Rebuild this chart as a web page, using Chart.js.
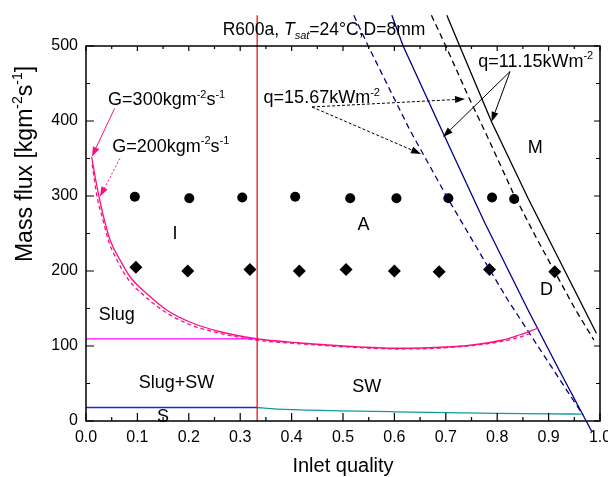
<!DOCTYPE html>
<html><head><meta charset="utf-8">
<script src="https://cdn.jsdelivr.net/npm/chart.js@4.4.1/dist/chart.umd.min.js"></script>
<style>html,body{margin:0;padding:0;background:#fff}canvas{display:block}</style>
</head><body>
<canvas id="c" width="608" height="477"></canvas>
<script>
// ---- tick values ----
const xTicks = [0, 0.1, 0.2, 0.3, 0.4, 0.5, 0.6, 0.7, 0.8, 0.9, 1.0];
const yTicks = [0, 100, 200, 300, 400, 500];

// ---- transition lines (x = inlet quality, y = mass flux) ----
const annularX = [0.333, 0.333];
const annularY = [0, 541];
const slugLimitX = [0, 0.333];
const slugLimitY = [109.5, 109.5];
const stratLeftX = [0, 0.333];
const stratLeftY = [18, 18];
const stratX = [0.333, 0.36, 0.416, 0.5, 0.6, 0.7, 0.8, 0.9, 0.964];
const stratY = [18, 16.5, 14.7, 13.5, 12.3, 11.2, 10.3, 9.6, 9.2];

const waveG300X = [0.011, 0.018, 0.025, 0.035, 0.047, 0.066, 0.086, 0.118, 0.157, 0.202, 0.261, 0.329, 0.416, 0.5, 0.605, 0.708, 0.747, 0.811, 0.844, 0.88];
const waveG300Y = [352, 325, 300, 270, 241, 215, 192, 170, 148, 132, 119, 110, 104, 100, 97, 99, 101, 108, 115, 124];
const waveG200X = [0.012, 0.022, 0.033, 0.045, 0.063, 0.083, 0.115, 0.155, 0.2, 0.26, 0.33, 0.416, 0.5, 0.605, 0.708, 0.8, 0.84, 0.862];
const waveG200Y = [342, 297, 268, 238, 211, 188, 166, 145, 129, 117, 108, 103, 99, 96, 98, 105, 111, 116];

const dryQ1567X = [0.521, 0.549, 0.630, 0.702, 0.786, 0.821, 0.877, 0.922, 0.967];
const dryQ1567Y = [541, 500, 388, 299, 201, 161, 102, 55, 8];
const dryQ1115X = [0.595, 0.617, 0.692, 0.776, 0.860, 0.922, 0.984];
const dryQ1115Y = [541, 500, 388, 264, 148, 66, -14];
const mistQ1567X = [0.672, 0.700, 0.745, 0.779, 0.831, 0.877, 0.916, 0.951, 0.988];
const mistQ1567Y = [541, 500, 431, 382, 304, 243, 194, 150, 108];
const mistQ1115X = [0.702, 0.727, 0.789, 0.860, 0.993];
const mistQ1115Y = [541, 500, 399, 297, 117];

// ---- experimental points ----
const g300X = [0.095, 0.201, 0.304, 0.407, 0.514, 0.604, 0.705, 0.790, 0.833];
const g300Y = [299, 297, 298, 299, 297, 297, 297, 298, 296];
const g200X = [0.097, 0.198, 0.319, 0.415, 0.506, 0.600, 0.687, 0.785, 0.912];
const g200Y = [205, 200, 202, 200, 202, 200, 199, 202, 199];

// ---- text labels (anchored in data coordinates) ----
const regionText = ['I', 'A', 'M', 'D', 'Slug', 'Slug+SW', 'SW', 'S'];
const regionX = [0.173, 0.540, 0.874, 0.896, 0.060, 0.176, 0.546, 0.150];
const regionY = [251, 263.5, 365.8, 177, 143.6, 52.4, 46.7, 8];

const noteText = ['G=300kgm^{-2}s^{-1}', 'G=200kgm^{-2}s^{-1}', 'q=15.67kWm^{-2}', 'q=11.15kWm^{-2}'];
const noteX = [0.043, 0.051, 0.3455, 0.763];
const noteY = [421, 359, 423.5, 472.4];

// arrows: from (x, y) to (x, y)
const arrowFromX = [0.0558, 0.066, 0.4397, 0.4397, 0.825, 0.825];
const arrowFromY = [417, 350, 418.7, 418.7, 466, 466];
const arrowToX = [0.0114, 0.027, 0.7374, 0.6518, 0.6946, 0.789];
const arrowToY = [352.4, 299, 429.3, 356, 378.7, 399];

const FONT = '"Liberation Sans", Arial, sans-serif';
const pts = (xs, ys) => xs.map((x, i) => ({x: x, y: ys[i]}));

function lineDs(xs, ys, color, dash, mono) {
  return {
    data: pts(xs, ys), showLine: true, borderColor: color, borderWidth: 1.3,
    borderDash: dash || [], pointRadius: 0, pointHoverRadius: 0, clip: false,
    cubicInterpolationMode: mono ? 'monotone' : 'default', tension: 0, fill: false
  };
}

function parseRich(s) {
  const segs = []; let i = 0, italic = false, buf = '';
  const push = (t, mode) => { if (t) segs.push({t: t, mode: mode, italic: italic}); };
  while (i < s.length) {
    const c = s[i];
    if ((c === '^' || c === '_') && s[i + 1] === '{') {
      push(buf, 'n'); buf = '';
      const j = s.indexOf('}', i);
      push(s.slice(i + 2, j), c === '^' ? 'sup' : 'sub');
      i = j + 1; continue;
    }
    if (c === '*') { push(buf, 'n'); buf = ''; italic = !italic; i++; continue; }
    buf += c; i++;
  }
  push(buf, 'n');
  return segs;
}
function drawRich(ctx, s, x, y, size, align) {
  const segs = parseRich(s);
  const fontFor = seg => (seg.italic ? 'italic ' : '') + (seg.mode === 'n' ? size : Math.round(size * 0.62)) + 'px ' + FONT;
  let w = 0;
  segs.forEach(seg => { ctx.font = fontFor(seg); seg.w = ctx.measureText(seg.t).width; w += seg.w; });
  let cx = align === 'center' ? x - w / 2 : (align === 'right' ? x - w : x);
  ctx.textAlign = 'left'; ctx.textBaseline = 'alphabetic';
  segs.forEach(seg => {
    ctx.font = fontFor(seg);
    const dy = seg.mode === 'sup' ? -size * 0.42 : (seg.mode === 'sub' ? size * 0.25 : 0);
    ctx.fillText(seg.t, cx, y + dy);
    cx += seg.w;
  });
  return w;
}
function arrow(ctx, x1, y1, x2, y2, color, dash, head) {
  ctx.save();
  ctx.strokeStyle = color; ctx.fillStyle = color; ctx.lineWidth = 1;
  ctx.setLineDash(dash);
  const a = Math.atan2(y2 - y1, x2 - x1);
  const hl = head || 10, hw = 3.5;
  const bx = x2 - hl * Math.cos(a), by = y2 - hl * Math.sin(a);
  ctx.beginPath(); ctx.moveTo(x1, y1); ctx.lineTo(bx, by); ctx.stroke();
  ctx.setLineDash([]);
  ctx.beginPath();
  ctx.moveTo(x2, y2);
  ctx.lineTo(bx + hw * Math.sin(a), by - hw * Math.cos(a));
  ctx.lineTo(bx - hw * Math.sin(a), by + hw * Math.cos(a));
  ctx.closePath(); ctx.fill();
  ctx.restore();
}

const decor = {
  id: 'decor',
  afterDatasetsDraw(chart) {
    const ctx = chart.ctx, xs = chart.scales.x, ys = chart.scales.y, a = chart.chartArea;
    ctx.save();
    // frame
    ctx.strokeStyle = '#000'; ctx.lineWidth = 1.5; ctx.setLineDash([]);
    ctx.strokeRect(a.left, a.top, a.right - a.left, a.bottom - a.top);
    // ticks (inward)
    ctx.lineWidth = 1.2;
    ctx.beginPath();
    const xMinor = xTicks.slice(1).map((v, i) => (v + xTicks[i]) / 2);
    const yMinor = yTicks.slice(1).map((v, i) => (v + yTicks[i]) / 2);
    xTicks.forEach(v => { const p = xs.getPixelForValue(v); ctx.moveTo(p, a.bottom); ctx.lineTo(p, a.bottom - 8); ctx.moveTo(p, a.top); ctx.lineTo(p, a.top + 5); });
    xMinor.forEach(v => { const p = xs.getPixelForValue(v); ctx.moveTo(p, a.bottom); ctx.lineTo(p, a.bottom - 4); ctx.moveTo(p, a.top); ctx.lineTo(p, a.top + 3); });
    yTicks.forEach(v => { const p = ys.getPixelForValue(v); ctx.moveTo(a.left, p); ctx.lineTo(a.left + 8, p); ctx.moveTo(a.right, p); ctx.lineTo(a.right - 6, p); });
    yMinor.forEach(v => { const p = ys.getPixelForValue(v); ctx.moveTo(a.left, p); ctx.lineTo(a.left + 4, p); ctx.moveTo(a.right, p); ctx.lineTo(a.right - 4, p); });
    ctx.stroke();

    ctx.fillStyle = '#000';
    regionText.forEach((t, i) => {
      drawRich(ctx, t, xs.getPixelForValue(regionX[i]), ys.getPixelForValue(regionY[i]) + 6.5, 18, 'center');
    });
    noteText.forEach((t, i) => {
      drawRich(ctx, t, xs.getPixelForValue(noteX[i]), ys.getPixelForValue(noteY[i]), 18, 'left');
    });
    const arrowStyle = [
      ['#ff1080', []], ['#ff1080', [2, 2]],
      ['#000', [3, 2]], ['#000', [3, 2]],
      ['#000', []], ['#000', []]
    ];
    arrowFromX.forEach((fx, i) => {
      arrow(ctx, xs.getPixelForValue(fx), ys.getPixelForValue(arrowFromY[i]),
        xs.getPixelForValue(arrowToX[i]), ys.getPixelForValue(arrowToY[i]),
        arrowStyle[i][0], arrowStyle[i][1], 10);
    });
    // chart title
    ctx.fillStyle = '#000';
    drawRich(ctx, 'R600a, *T_{sat}*=24°C,D=8mm', (a.left + a.right) / 2 - 19, 35, 17.5, 'center');
    // axis titles
    drawRich(ctx, 'Inlet quality', (a.left + a.right) / 2, 472, 20, 'center');
    ctx.save();
    ctx.translate(32, 164);
    ctx.rotate(-Math.PI / 2);
    drawRich(ctx, 'Mass flux [kgm^{-2}s^{-1}]', 0, 0, 23, 'center');
    ctx.restore();
    ctx.restore();
  }
};

new Chart(document.getElementById('c'), {
  type: 'scatter',
  data: {
    datasets: [
      lineDs(annularX, annularY, '#ee1111'),
      lineDs(slugLimitX, slugLimitY, '#ff00ff'),
      lineDs(stratLeftX, stratLeftY, '#2222dd'),
      lineDs(stratX, stratY, '#11999e', null, true),
      lineDs(waveG200X, waveG200Y, '#ff1080', [4, 3], true),
      lineDs(waveG300X, waveG300Y, '#ff1080', null, true),
      lineDs(dryQ1567X, dryQ1567Y, '#000088', [6, 4]),
      lineDs(dryQ1115X, dryQ1115Y, '#000088'),
      lineDs(mistQ1567X, mistQ1567Y, '#000000', [6, 4]),
      lineDs(mistQ1115X, mistQ1115Y, '#000000'),
      {data: pts(g300X, g300Y), pointStyle: 'circle', pointRadius: 5, backgroundColor: '#000', borderColor: '#000', borderWidth: 0, showLine: false},
      {data: pts(g200X, g200Y), pointStyle: 'rectRot', pointRadius: 6.5, backgroundColor: '#000', borderColor: '#000', borderWidth: 0, showLine: false}
    ]
  },
  options: {
    responsive: false, animation: false, devicePixelRatio: 1,
    layout: {padding: {top: 46, right: 8, left: 0, bottom: 0}},
    plugins: {legend: {display: false}, tooltip: {enabled: false}, title: {display: false}},
    events: [],
    scales: {
      x: {
        type: 'linear', min: 0, max: 1,
        grid: {display: false, drawTicks: false}, border: {display: false},
        afterBuildTicks: s => { s.ticks = xTicks.map(v => ({value: v})); },
        afterFit: s => { s.height = 56; s.paddingLeft = 0; s.paddingRight = 0; },
        ticks: {autoSkip: false, maxRotation: 0, padding: 7, color: '#000', font: {family: FONT, size: 16}, callback: v => v.toFixed(1)}
      },
      y: {
        type: 'linear', min: 0, max: 500,
        grid: {display: false, drawTicks: false}, border: {display: false},
        afterBuildTicks: s => { s.ticks = yTicks.map(v => ({value: v})); },
        afterFit: s => { s.width = 86; s.paddingTop = 0; s.paddingBottom = 0; },
        ticks: {autoSkip: false, padding: 8, color: '#000', font: {family: FONT, size: 16}, callback: v => String(v)}
      }
    }
  },
  plugins: [decor]
});
</script>
</body></html>
